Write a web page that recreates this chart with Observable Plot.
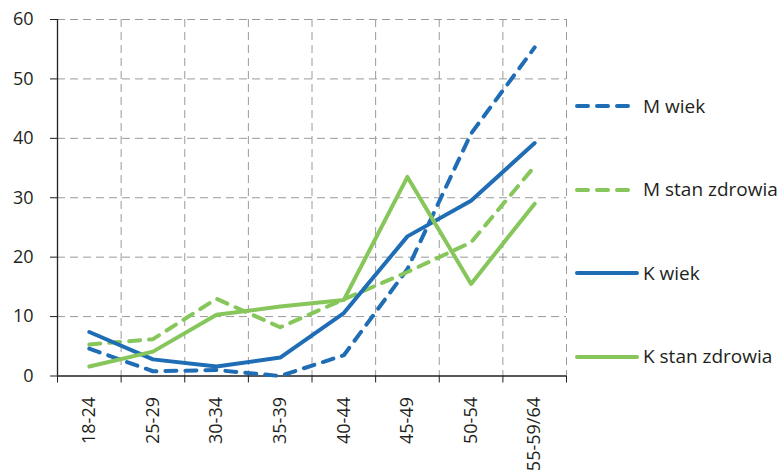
<!DOCTYPE html>
<html><head><meta charset="utf-8">
<script src="https://cdn.jsdelivr.net/npm/d3@7"></script>
<script src="https://cdn.jsdelivr.net/npm/@observablehq/plot@0.6"></script>
<style>
body{margin:0;background:#fff;font-family:"Open Sans",sans-serif;}
#wrap{position:relative;width:779px;height:474px;overflow:hidden}
#legend{position:absolute;left:573px;top:64.5px;width:206px}
.item{position:relative;height:83.5px}
.item svg{position:absolute;left:0;top:38.75px;display:block}
.item span{position:absolute;left:70px;top:29px;font-size:19px;color:#231f20;line-height:24px;white-space:nowrap}
</style></head><body><div id="wrap"><div id="legend"></div></div>
<script>
const categories = ["18-24","25-29","30-34","35-39","40-44","45-49","50-54","55-59/64"];
const mWiek      = [4.6, 0.8, 1.0, 0.0, 3.5, 18.0, 40.8, 55.3];
const mZdrowie   = [5.3, 6.2, 13.0, 8.2, 12.9, 17.5, 22.5, 35.3];
const kWiek      = [7.4, 2.8, 1.6, 3.1, 10.6, 23.5, 29.5, 39.2];
const kZdrowie   = [1.6, 4.1, 10.3, 11.7, 12.8, 33.5, 15.5, 29.0];
const seriesNames = ["M wiek", "M stan zdrowia", "K wiek", "K stan zdrowia"];
const yTicks = [0, 10, 20, 30, 40, 50, 60];

const BLUE = "#1f6db5", GREEN = "#86c65a";
const styles = [
  {stroke: BLUE, dash: "11,9"},
  {stroke: GREEN, dash: "11,9"},
  {stroke: BLUE, dash: null},
  {stroke: GREEN, dash: null}
];
const seriesValues = [mWiek, mZdrowie, kWiek, kZdrowie];
const bounds = d3.range(-0.5, categories.length, 1);

const lineMarks = seriesValues.map((vals, s) =>
  Plot.line(vals.map((v, i) => ({i, v})), {
    x: "i", y: "v", stroke: styles[s].stroke, strokeWidth: 4,
    strokeDasharray: styles[s].dash, strokeLinecap: "round", strokeLinejoin: "round"
  })
);

const chart = Plot.plot({
  width: 779, height: 474,
  marginLeft: 57, marginRight: 213, marginTop: 19, marginBottom: 98.5,
  x: {type: "linear", domain: [-0.5, categories.length - 0.5]},
  y: {domain: [0, 60]},
  style: {fontFamily: "'Open Sans', sans-serif", fontSize: "18px", color: "#231f20", background: "#fff"},
  marks: [
    Plot.gridX(bounds.slice(1), {stroke: "#9a9a9a", strokeOpacity: 1, strokeWidth: 1, strokeDasharray: "8,5"}),
    Plot.gridY(yTicks.slice(1), {stroke: "#9a9a9a", strokeOpacity: 1, strokeWidth: 1, strokeDasharray: "8,5"}),
    Plot.axisY(yTicks, {tickSize: 7, tickPadding: 17, label: null, fontSize: 18, stroke: "#231f20"}),
    Plot.axisX(bounds, {tickSize: 7, tickFormat: () => "", label: null, stroke: "#231f20"}),
    Plot.axisX(d3.range(categories.length), {tickSize: 0, tickPadding: 21, tickRotate: -90,
      tickFormat: i => categories[i], label: null, fontSize: 18}),
    Plot.ruleX([-0.5], {stroke: "#231f20", strokeWidth: 1.3}),
    Plot.ruleY([0], {stroke: "#231f20", strokeWidth: 1.3}),
    ...lineMarks
  ]
});
document.getElementById("wrap").prepend(chart);

const legend = document.getElementById("legend");
seriesNames.forEach((name, s) => {
  const item = document.createElement("div");
  item.className = "item";
  const x2 = styles[s].dash ? 56 : 64;
  item.innerHTML = `<svg width="70" height="6"><line x1="4" y1="3" x2="${x2}" y2="3" stroke="${styles[s].stroke}" stroke-width="4" stroke-linecap="round" ${styles[s].dash ? `stroke-dasharray="${styles[s].dash}"` : ""}/></svg><span>${name}</span>`;
  legend.appendChild(item);
});
</script>
</body></html>
